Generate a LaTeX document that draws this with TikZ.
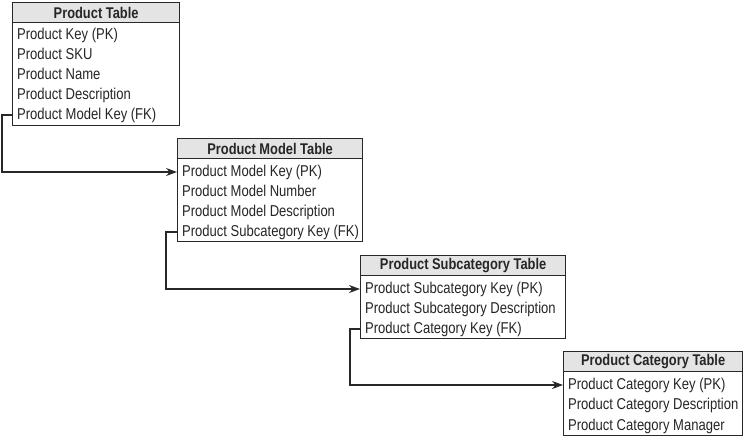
\documentclass[tikz,border=0pt]{standalone}
\usepackage{fontspec}
\setmainfont{Liberation Sans}[FakeStretch=0.83]
\usetikzlibrary{arrows.meta}
\definecolor{hdrgray}{RGB}{228,228,228}
\definecolor{lnclr}{RGB}{40,40,40}
\tikzset{
  hdr/.style={draw=lnclr, line width=1.2pt, fill=hdrgray, anchor=north west, inner sep=0pt,
    font=\fontsize{15.5}{16}\selectfont\bfseries, text=black!85},
  bodybox/.style={draw=lnclr, line width=1.2pt, fill=white, anchor=north west, inner sep=0pt},
  rowtxt/.style={anchor=west, inner sep=0pt, text height=11pt, text depth=3pt,
    font=\fontsize{15.7}{16}\selectfont, text=black!85},
  link/.style={draw=lnclr, line width=1.2pt, -{Stealth[length=11pt,width=8pt]}}
}
\begin{document}
\begin{tikzpicture}[x=1pt,y=-1pt]
\useasboundingbox (0,0) rectangle (743,437);
% Table 1
\node[bodybox, minimum width=167pt, minimum height=103pt] (b1) at (12,22) {};
\node[hdr, minimum width=167pt, minimum height=20pt] (h1) at (12,2) {Product Table};
\node[rowtxt] (r11) at (17,35) {Product Key (PK)};
\node[rowtxt] (r12) at (17,55) {Product SKU};
\node[rowtxt] (r13) at (17,75) {Product Name};
\node[rowtxt] (r14) at (17,95) {Product Description};
\node[rowtxt] (r15) at (17,115) {Product Model Key (FK)};
% Table 2
\node[bodybox, minimum width=185pt, minimum height=83pt] (b2) at (177,158) {};
\node[hdr, minimum width=185pt, minimum height=20pt] (h2) at (177,138) {Product Model Table};
\node[rowtxt] (r21) at (182,172) {Product Model Key (PK)};
\node[rowtxt] (r22) at (182,192) {Product Model Number};
\node[rowtxt] (r23) at (182,212) {Product Model Description};
\node[rowtxt] (r24) at (182,232) {Product Subcategory Key (FK)};
% Table 3
\node[bodybox, minimum width=205pt, minimum height=63pt] (b3) at (360,275) {};
\node[hdr, minimum width=205pt, minimum height=20pt] (h3) at (360,255) {Product Subcategory Table};
\node[rowtxt] (r31) at (365,289) {Product Subcategory Key (PK)};
\node[rowtxt] (r32) at (365,309) {Product Subcategory Description};
\node[rowtxt] (r33) at (365,329) {Product Category Key (FK)};
% Table 4
\node[bodybox, minimum width=179pt, minimum height=64pt] (b4) at (563,371) {};
\node[hdr, minimum width=179pt, minimum height=20pt] (h4) at (563,351) {Product Category Table};
\node[rowtxt] (r41) at (568,385) {Product Category Key (PK)};
\node[rowtxt] (r42) at (568,405.5) {Product Category Description};
\node[rowtxt] (r43) at (568,426) {Product Category Manager};
% Connectors
\draw[link] (r15.west -| b1.west) -- ++(-10,0) |- (r21.west -| b2.west);
\draw[link] (r24.west -| b2.west) -- ++(-11,0) |- (r31.west -| b3.west);
\draw[link] (r33.west -| b3.west) -- ++(-10,0) |- (r41.west -| b4.west);
\end{tikzpicture}
\end{document}
